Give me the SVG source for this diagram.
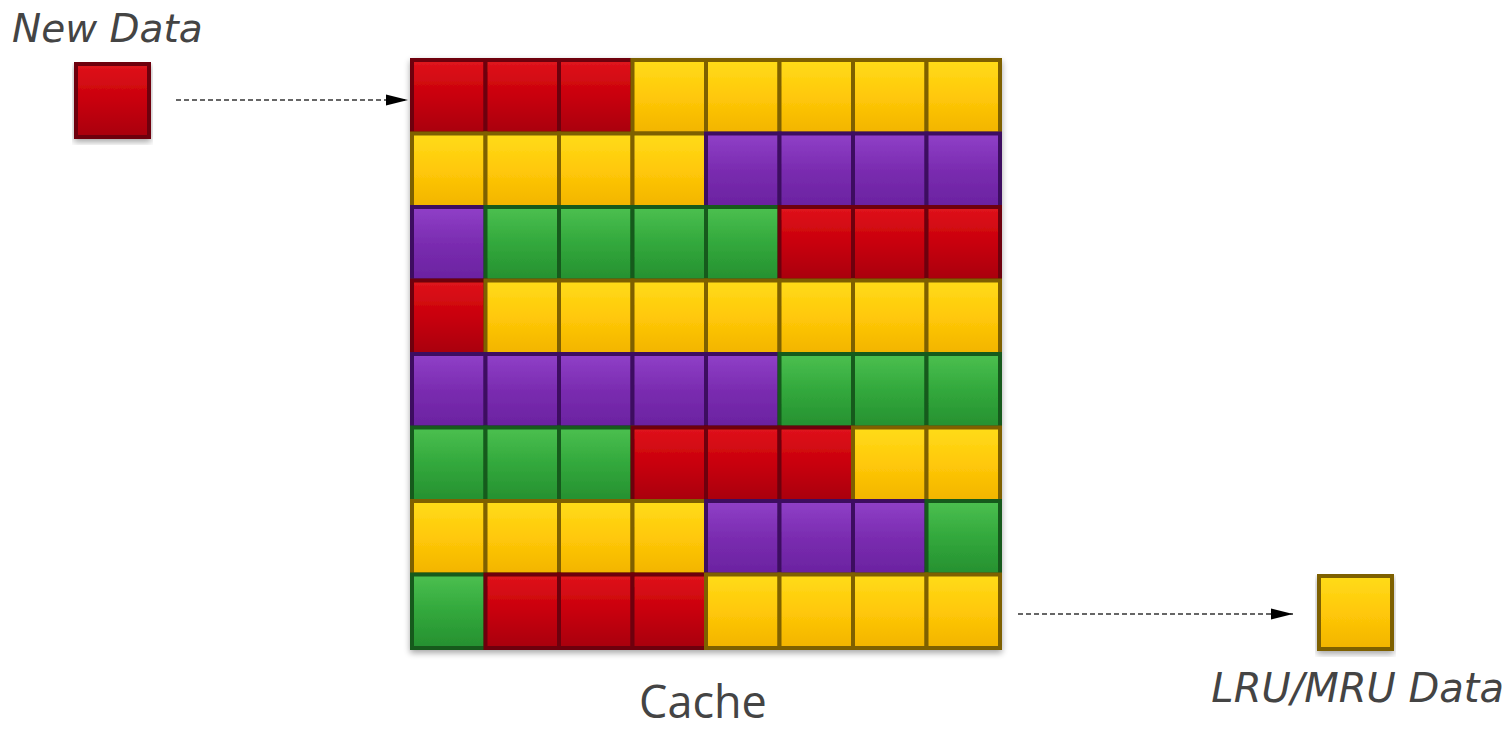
<svg xmlns="http://www.w3.org/2000/svg" width="1510" height="729" viewBox="0 0 1510 729">
  <defs>
    <linearGradient id="gR" x1="0" y1="0" x2="0" y2="1">
      <stop offset="0" stop-color="#e0141c"/>
      <stop offset="0.5" stop-color="#c8000a"/>
      <stop offset="1" stop-color="#a8000a"/>
    </linearGradient>
    <linearGradient id="gY" x1="0" y1="0" x2="0" y2="1">
      <stop offset="0" stop-color="#ffdc1a"/>
      <stop offset="0.5" stop-color="#ffc808"/>
      <stop offset="1" stop-color="#f2b400"/>
    </linearGradient>
    <linearGradient id="gP" x1="0" y1="0" x2="0" y2="1">
      <stop offset="0" stop-color="#9040c8"/>
      <stop offset="0.5" stop-color="#7a2cb0"/>
      <stop offset="1" stop-color="#6a22a0"/>
    </linearGradient>
    <linearGradient id="gG" x1="0" y1="0" x2="0" y2="1">
      <stop offset="0" stop-color="#4cc050"/>
      <stop offset="0.5" stop-color="#32a83c"/>
      <stop offset="1" stop-color="#269030"/>
    </linearGradient>
    <marker id="arrow" viewBox="0 0 10 10" refX="10" refY="5" markerWidth="22" markerHeight="14" markerUnits="userSpaceOnUse" orient="auto" preserveAspectRatio="none">
      <path d="M0,1 L10,5 L0,9 Z" fill="#000"/>
    </marker>
    <filter id="shadow" x="-5%" y="-5%" width="110%" height="115%">
      <feGaussianBlur in="SourceAlpha" stdDeviation="3"/>
      <feOffset dy="3"/>
      <feComponentTransfer><feFuncA type="linear" slope="0.35"/></feComponentTransfer>
      <feMerge><feMergeNode/><feMergeNode in="SourceGraphic"/></feMerge>
    </filter>
  </defs>
  <style>
    .lbl { font-family: "DejaVu Sans", "Liberation Sans", sans-serif; fill: #444; }
    .it { font-style: italic; }
    .cap { font-family: "Open Sans", "Liberation Sans", sans-serif; fill: #444; }
    .r { fill: url(#gR); stroke: #6e0008; }
    .y { fill: url(#gY); stroke: #7e6000; }
    .p { fill: url(#gP); stroke: #3e1060; }
    .g { fill: url(#gG); stroke: #135a1a; }
    .cell { stroke-width: 4; }
    .conn { stroke: #666; stroke-width: 2; stroke-dasharray: 5 3; fill: none; }
  </style>

  <rect width="1510" height="729" fill="#fff"/>

  <!-- incoming block -->
  <g id="new-data">
    <rect class="cell r" x="76" y="64" width="73" height="73" stroke-width="2" filter="url(#shadow)"/>
    <text class="lbl it" x="12" y="42" font-size="39">New Data</text>
  </g>

  <!-- cache grid: 8 x 8 cells of 73.5 px -->
  <g id="cache" filter="url(#shadow)">
    <!-- row 0 -->
    <rect class="cell r" x="412" y="60" width="73.5" height="73.5"/>
    <rect class="cell r" x="485.5" y="60" width="73.5" height="73.5"/>
    <rect class="cell r" x="559" y="60" width="73.5" height="73.5"/>
    <rect class="cell y" x="632.5" y="60" width="73.5" height="73.5"/>
    <rect class="cell y" x="706" y="60" width="73.5" height="73.5"/>
    <rect class="cell y" x="779.5" y="60" width="73.5" height="73.5"/>
    <rect class="cell y" x="853" y="60" width="73.5" height="73.5"/>
    <rect class="cell y" x="926.5" y="60" width="73.5" height="73.5"/>
    <!-- row 1 -->
    <rect class="cell y" x="412" y="133.5" width="73.5" height="73.5"/>
    <rect class="cell y" x="485.5" y="133.5" width="73.5" height="73.5"/>
    <rect class="cell y" x="559" y="133.5" width="73.5" height="73.5"/>
    <rect class="cell y" x="632.5" y="133.5" width="73.5" height="73.5"/>
    <rect class="cell p" x="706" y="133.5" width="73.5" height="73.5"/>
    <rect class="cell p" x="779.5" y="133.5" width="73.5" height="73.5"/>
    <rect class="cell p" x="853" y="133.5" width="73.5" height="73.5"/>
    <rect class="cell p" x="926.5" y="133.5" width="73.5" height="73.5"/>
    <!-- row 2 -->
    <rect class="cell p" x="412" y="207" width="73.5" height="73.5"/>
    <rect class="cell g" x="485.5" y="207" width="73.5" height="73.5"/>
    <rect class="cell g" x="559" y="207" width="73.5" height="73.5"/>
    <rect class="cell g" x="632.5" y="207" width="73.5" height="73.5"/>
    <rect class="cell g" x="706" y="207" width="73.5" height="73.5"/>
    <rect class="cell r" x="779.5" y="207" width="73.5" height="73.5"/>
    <rect class="cell r" x="853" y="207" width="73.5" height="73.5"/>
    <rect class="cell r" x="926.5" y="207" width="73.5" height="73.5"/>
    <!-- row 3 -->
    <rect class="cell r" x="412" y="280.5" width="73.5" height="73.5"/>
    <rect class="cell y" x="485.5" y="280.5" width="73.5" height="73.5"/>
    <rect class="cell y" x="559" y="280.5" width="73.5" height="73.5"/>
    <rect class="cell y" x="632.5" y="280.5" width="73.5" height="73.5"/>
    <rect class="cell y" x="706" y="280.5" width="73.5" height="73.5"/>
    <rect class="cell y" x="779.5" y="280.5" width="73.5" height="73.5"/>
    <rect class="cell y" x="853" y="280.5" width="73.5" height="73.5"/>
    <rect class="cell y" x="926.5" y="280.5" width="73.5" height="73.5"/>
    <!-- row 4 -->
    <rect class="cell p" x="412" y="354" width="73.5" height="73.5"/>
    <rect class="cell p" x="485.5" y="354" width="73.5" height="73.5"/>
    <rect class="cell p" x="559" y="354" width="73.5" height="73.5"/>
    <rect class="cell p" x="632.5" y="354" width="73.5" height="73.5"/>
    <rect class="cell p" x="706" y="354" width="73.5" height="73.5"/>
    <rect class="cell g" x="779.5" y="354" width="73.5" height="73.5"/>
    <rect class="cell g" x="853" y="354" width="73.5" height="73.5"/>
    <rect class="cell g" x="926.5" y="354" width="73.5" height="73.5"/>
    <!-- row 5 -->
    <rect class="cell g" x="412" y="427.5" width="73.5" height="73.5"/>
    <rect class="cell g" x="485.5" y="427.5" width="73.5" height="73.5"/>
    <rect class="cell g" x="559" y="427.5" width="73.5" height="73.5"/>
    <rect class="cell r" x="632.5" y="427.5" width="73.5" height="73.5"/>
    <rect class="cell r" x="706" y="427.5" width="73.5" height="73.5"/>
    <rect class="cell r" x="779.5" y="427.5" width="73.5" height="73.5"/>
    <rect class="cell y" x="853" y="427.5" width="73.5" height="73.5"/>
    <rect class="cell y" x="926.5" y="427.5" width="73.5" height="73.5"/>
    <!-- row 6 -->
    <rect class="cell y" x="412" y="501" width="73.5" height="73.5"/>
    <rect class="cell y" x="485.5" y="501" width="73.5" height="73.5"/>
    <rect class="cell y" x="559" y="501" width="73.5" height="73.5"/>
    <rect class="cell y" x="632.5" y="501" width="73.5" height="73.5"/>
    <rect class="cell p" x="706" y="501" width="73.5" height="73.5"/>
    <rect class="cell p" x="779.5" y="501" width="73.5" height="73.5"/>
    <rect class="cell p" x="853" y="501" width="73.5" height="73.5"/>
    <rect class="cell g" x="926.5" y="501" width="73.5" height="73.5"/>
    <!-- row 7 -->
    <rect class="cell g" x="412" y="574.5" width="73.5" height="73.5"/>
    <rect class="cell r" x="485.5" y="574.5" width="73.5" height="73.5"/>
    <rect class="cell r" x="559" y="574.5" width="73.5" height="73.5"/>
    <rect class="cell r" x="632.5" y="574.5" width="73.5" height="73.5"/>
    <rect class="cell y" x="706" y="574.5" width="73.5" height="73.5"/>
    <rect class="cell y" x="779.5" y="574.5" width="73.5" height="73.5"/>
    <rect class="cell y" x="853" y="574.5" width="73.5" height="73.5"/>
    <rect class="cell y" x="926.5" y="574.5" width="73.5" height="73.5"/>
  </g>
  <text id="cache-label" class="cap" x="703" y="718" font-size="45" text-anchor="middle">Cache</text>

  <!-- evicted block -->
  <g id="lru-mru-data">
    <rect class="cell y" x="1319" y="576" width="73" height="73" stroke-width="2" filter="url(#shadow)"/>
    <text class="lbl it" x="1504" y="702" font-size="40" text-anchor="end">LRU/MRU Data</text>
  </g>

  <!-- connectors -->
  <g id="connectors">
    <line class="conn" x1="176" y1="100" x2="408" y2="100" marker-end="url(#arrow)"/>
    <line class="conn" x1="1018" y1="614" x2="1293" y2="614" marker-end="url(#arrow)"/>
  </g>
</svg>
